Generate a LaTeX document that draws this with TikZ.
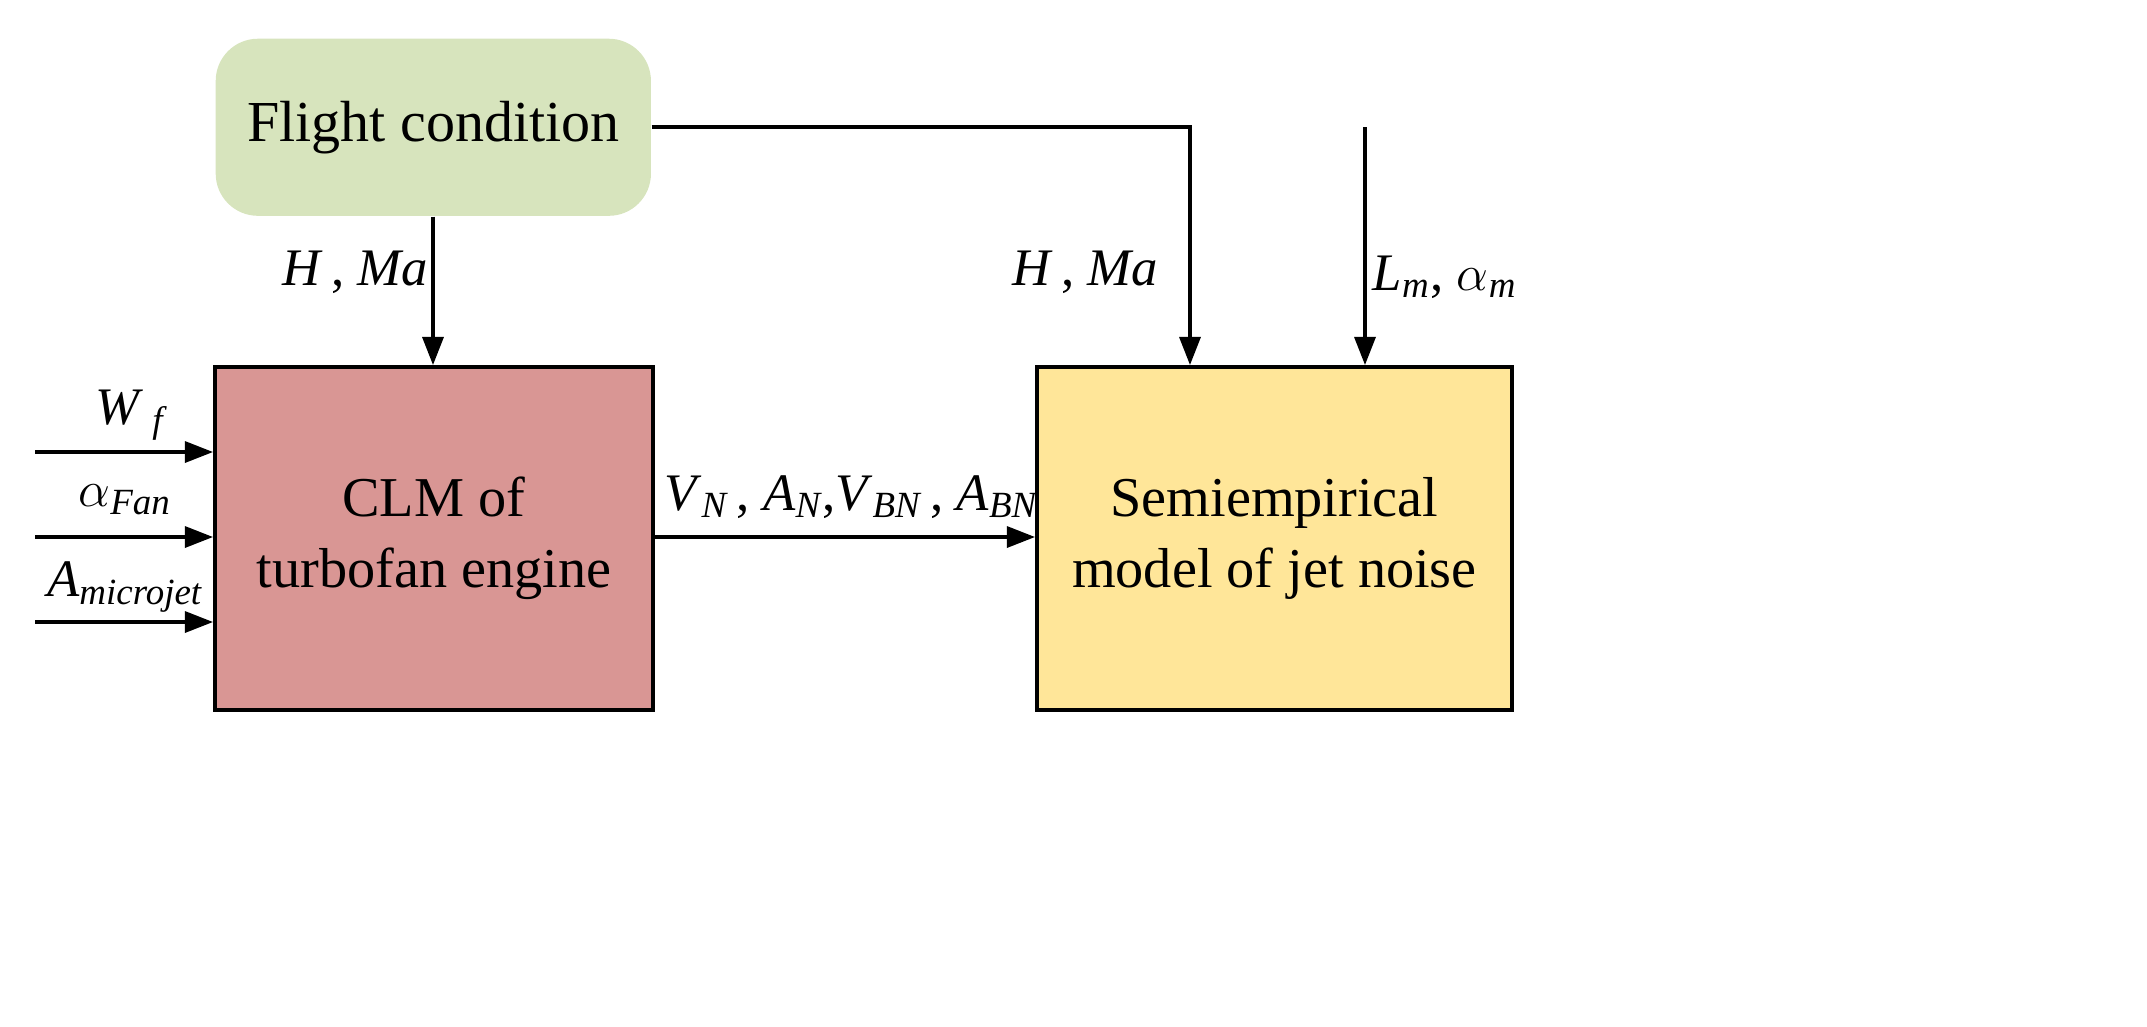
\documentclass[tikz,border=0pt]{standalone}
\usepackage{amsmath}
\usepackage{fontspec}
\setmainfont{Liberation Serif}
\usetikzlibrary{arrows.meta}
\definecolor{fgreen}{HTML}{D7E4BD}
\definecolor{fred}{HTML}{D99694}
\definecolor{fyel}{HTML}{FFE699}
\newcommand{\iv}[1]{\textit{#1}}
\newcommand{\sbt}[1]{$_{\text{\itshape #1}}$}
\begin{document}
\begin{tikzpicture}[x=0.01cm,y=-0.01cm,
  box/.style={draw=black,line width=1pt,anchor=north west,align=center,font=\fontsize{16}{20}\selectfont},
  arr/.style={line width=0.9pt,-{Triangle[length=8pt,width=6pt]}},
  lab/.style={font=\fontsize{15}{18}\selectfont}]
\useasboundingbox (0,0) rectangle (2147,1026);
\node[anchor=north west,fill=fgreen,rounded corners=12pt,minimum width=4.35cm,minimum height=1.77cm,inner sep=0,font=\fontsize{16.5}{20}\selectfont] (fc) at (215,38) {Flight condition};
\node[box,fill=fred,minimum width=4.38cm,minimum height=3.43cm,inner sep=0] (clm) at (213,365) {CLM of\\turbofan engine};
\node[box,fill=fyel,minimum width=4.75cm,minimum height=3.43cm,inner sep=0] (sem) at (1035,365) {Semiempirical\\model of jet noise};
\coordinate (c1) at (1190,127);
\coordinate (t2) at (1365,127);
\coordinate (w) at (35,452);
\coordinate (a) at (35,537);
\coordinate (m) at (35,622);
\draw[arr] (fc.south -| 433,0) -- (clm.north -| 433,0);
\draw[arr] (fc.east |- c1) -- (c1) -- (sem.north -| c1);
\draw[arr] (t2) -- (sem.north -| t2);
\draw[arr] (w) -- (clm.west |- w);
\draw[arr] (a) -- (clm.west |- a);
\draw[arr] (m) -- (clm.west |- m);
\draw[arr] (clm.east |- a) -- (sem.west |- a);
\node[lab] (l1) at (355,272) {\iv{H}\,, \iv{Ma}};
\node[lab] (l2) at (1085,272) {\iv{H}\,, \iv{Ma}};
\node[lab] (l3) at (1445,277) {\iv{L}\sbt{m}, $\alpha$\sbt{m}};
\node[lab] (l4) at (130,415) {\iv{W}\,\sbt{f}};
\node[lab] (l5) at (125,500) {$\alpha$\sbt{Fan}};
\node[lab] (l6) at (125,587) {\iv{A}\sbt{microjet}};
\node[lab,anchor=west] (l7) at (652,497) {\iv{V}\sbt{N}\,, \iv{A}\sbt{N},\iv{V}\sbt{BN}\,, \iv{A}\sbt{BN}};
\end{tikzpicture}
\end{document}
